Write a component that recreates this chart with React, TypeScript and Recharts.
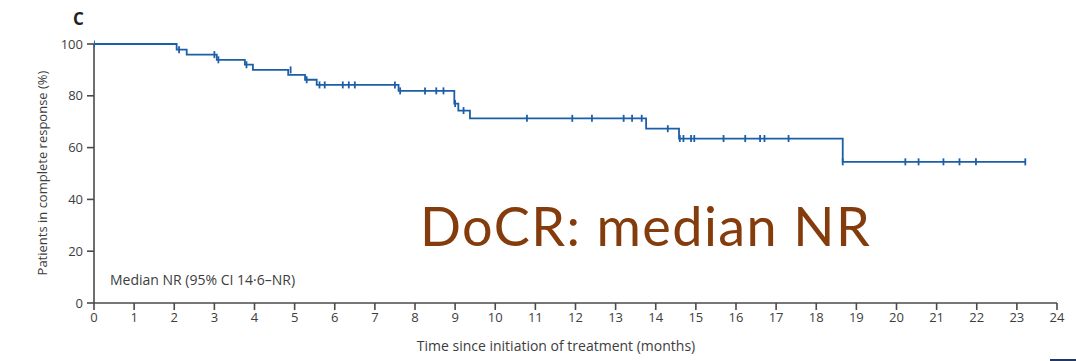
import React from "react";
import { ComposedChart, Line, Scatter, XAxis, YAxis } from "recharts";

// Kaplan–Meier step events: time (months) and % in complete response
const stepTimes = [0, 2.06, 2.31, 3.06, 3.76, 3.96, 4.84, 5.26, 5.55, 7.59, 8.98, 9.08, 9.37, 13.76, 14.58, 18.66, 23.21];
const stepValues = [100, 97.8, 95.9, 93.9, 92.0, 90.0, 88.1, 86.2, 84.2, 81.9, 77.0, 74.3, 71.3, 67.3, 63.5, 54.5, 54.5];

// Censoring marks
const censorTimes = [0, 2.12, 3.0, 3.1, 3.8, 4.9, 5.3, 5.62, 5.75, 6.2, 6.35, 6.5, 7.5, 7.63, 8.25, 8.53, 8.71, 9.0, 9.21, 10.79, 11.92, 12.41, 13.2, 13.41, 13.65, 14.3, 14.6, 14.69, 14.88, 14.96, 15.69, 16.23, 16.6, 16.71, 17.31, 18.66, 20.22, 20.55, 21.17, 21.57, 21.98, 23.21];
const censorValues = [100, 97.8, 95.9, 93.9, 92.0, 90.0, 86.2, 84.2, 84.2, 84.2, 84.2, 84.2, 84.2, 81.9, 81.9, 81.9, 81.9, 77.0, 74.3, 71.3, 71.3, 71.3, 71.3, 71.3, 71.3, 67.3, 63.5, 63.5, 63.5, 63.5, 63.5, 63.5, 63.5, 63.5, 63.5, 54.5, 54.5, 54.5, 54.5, 54.5, 54.5, 54.5];

const xTicks = [0, 1, 2, 3, 4, 5, 6, 7, 8, 9, 10, 11, 12, 13, 14, 15, 16, 17, 18, 19, 20, 21, 22, 23, 24];
const yTicks = [0, 20, 40, 60, 80, 100];

const panelLabel = "C";
const xLabel = "Time since initiation of treatment (months)";
const yLabel = "Patients in complete response (%)";
const medianNote = "Median NR (95% CI 14·6–NR)";
const bigNote = "DoCR: median NR";

const curve = stepTimes.map((t, i) => ({ t, s: stepValues[i] }));
const censors = censorTimes.map((t, i) => ({ t, s: censorValues[i] }));

const LINE = "#1d5ea8";
const AXIS = "#4a4a4a";
const FONT = "'Open Sans', 'DejaVu Sans', sans-serif";

const CensorMark = (props: any) => {
  const { cx, cy } = props;
  if (cx == null || cy == null) return null;
  return <line x1={cx} y1={cy - 3.5} x2={cx} y2={cy + 3.5} stroke={LINE} strokeWidth={1.8} />;
};

export default function App() {
  return (
    <div style={{ position: "absolute", left: 0, top: 0, width: 1076, height: 361, background: "#fff", overflow: "hidden" }}>
      <ComposedChart
        width={1076}
        height={361}
        data={curve}
        margin={{ top: 44, right: 19, bottom: 0, left: 0 }}
      >
        <XAxis
          type="number"
          dataKey="t"
          domain={[0, 24]}
          ticks={xTicks}
          interval={0}
          height={58}
          allowDataOverflow
          axisLine={{ stroke: AXIS, strokeWidth: 1.6 }}
          tickLine={{ stroke: AXIS, strokeWidth: 1.6 }}
          tickSize={7}
          tickMargin={3}
          tick={{ fill: "#3d3d3d", fontSize: 13, fontFamily: FONT }}
        />
        <YAxis
          type="number"
          domain={[0, 100]}
          ticks={yTicks}
          width={94}
          axisLine={{ stroke: AXIS, strokeWidth: 1.6 }}
          tickLine={{ stroke: AXIS, strokeWidth: 1.6 }}
          tickSize={7}
          tickMargin={4}
          tick={{ fill: "#3d3d3d", fontSize: 13, fontFamily: FONT }}
        />
        <Line
          type="stepAfter"
          dataKey="s"
          stroke={LINE}
          strokeWidth={1.8}
          dot={false}
          activeDot={false}
          isAnimationActive={false}
        />
        <Scatter data={censors} dataKey="s" shape={<CensorMark />} isAnimationActive={false} />
      </ComposedChart>
      <svg width={1076} height={361} style={{ position: "absolute", left: 0, top: 0, pointerEvents: "none" }}>
        <text x={73} y={25} fontFamily={FONT} fontWeight={700} fontSize={17} fill="#222">{panelLabel}</text>
        <text
          x={42}
          y={173}
          transform="rotate(-90 42 173)"
          textAnchor="middle"
          dominantBaseline="central"
          fontFamily={FONT}
          fontSize={13}
          fill="#3d3d3d"
        >
          {yLabel}
        </text>
        <text x={556} y={351} textAnchor="middle" fontFamily={FONT} fontSize={14} fill="#3d3d3d">{xLabel}</text>
        <text x={110} y={285} fontFamily={FONT} fontSize={14} fill="#3d3d3d">{medianNote}</text>
        <text x={420} y={246} fontFamily="Lato, 'Open Sans', sans-serif" fontSize={54} letterSpacing={1.4} fill="#843c0c">{bigNote}</text>
      </svg>
      <div style={{ position: "absolute", left: 1050, top: 359, width: 26, height: 2, background: "#1f3864" }} />
    </div>
  );
}
